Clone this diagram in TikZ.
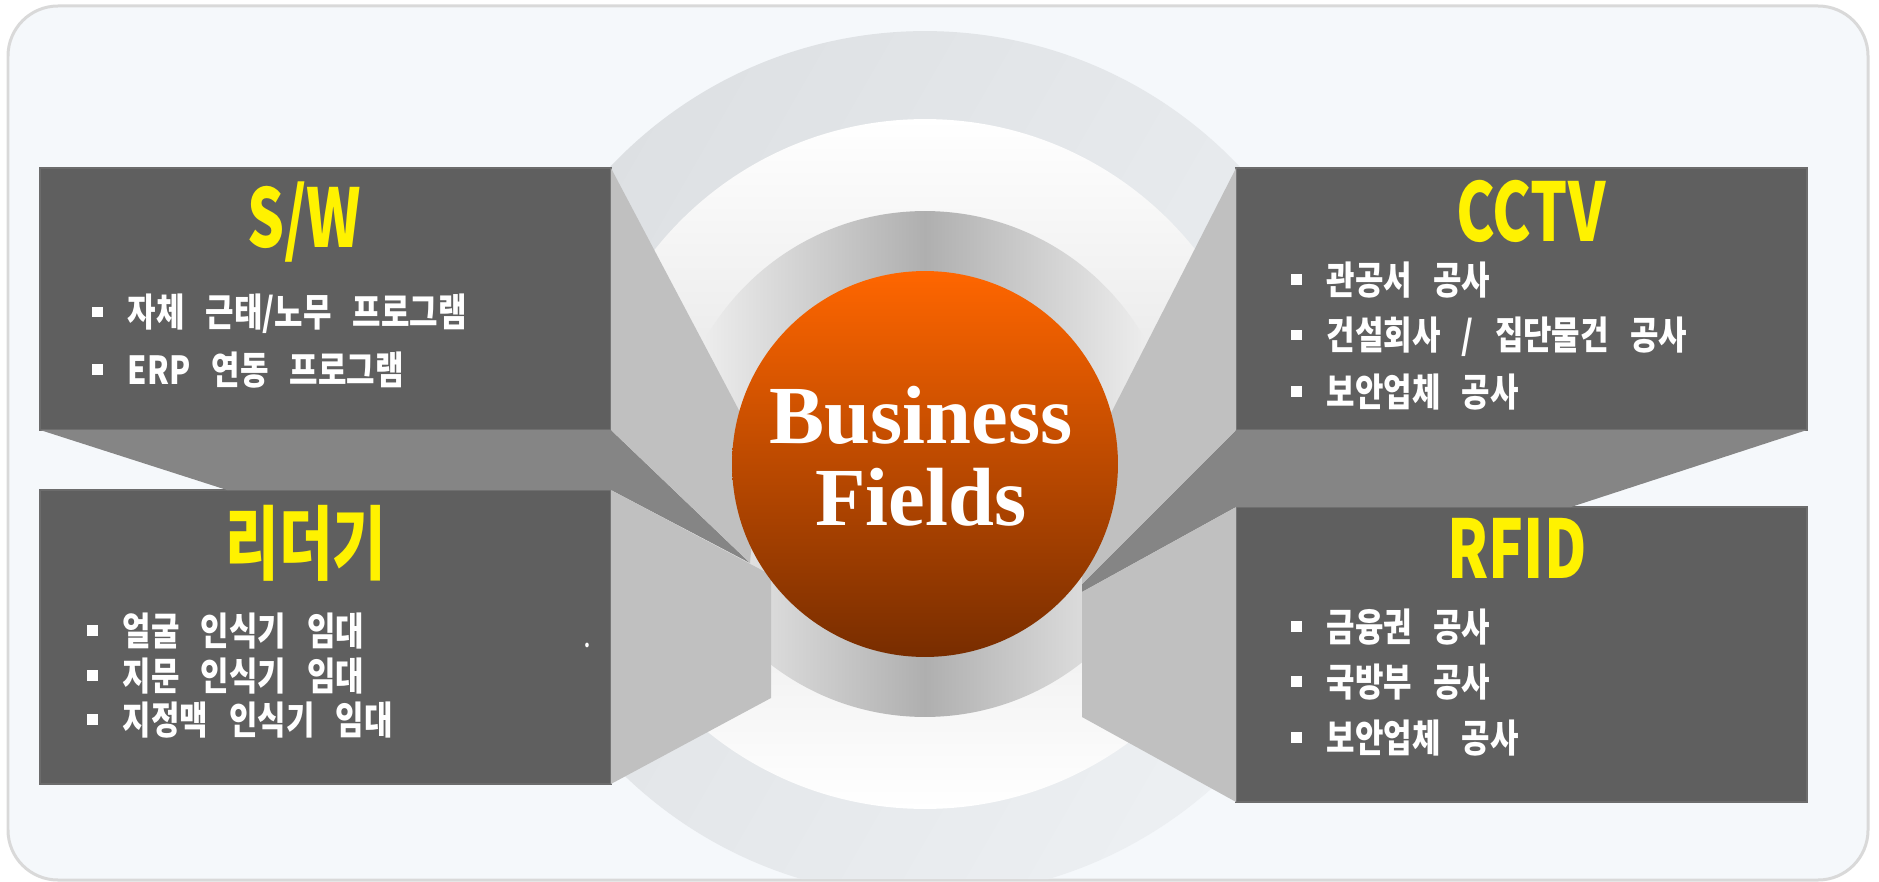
\documentclass[tikz,border=0pt]{standalone}
\usepackage{fontspec}
\setmainfont{Liberation Serif}
\newfontfamily\kofont[FakeStretch=0.8,WordSpace=3]{Noto Sans CJK KR Black}
\newfontfamily\kohead[FakeStretch=0.72]{Noto Sans CJK KR Black}
\definecolor{bgfill}{HTML}{F5F8FB}
\definecolor{bgline}{HTML}{D9D9D9}
\definecolor{ringout}{HTML}{DDE0E3}
\definecolor{ringpale}{HTML}{EDF0F3}
\definecolor{ringmid}{HTML}{E2E2E2}
\definecolor{ringgray}{HTML}{AFAFAF}
\definecolor{ringedge}{HTML}{F6F6F6}
\definecolor{boxgray}{HTML}{5F5F5F}
\definecolor{boxedge}{HTML}{6C6C6C}
\definecolor{facelight}{HTML}{C0C0C0}
\definecolor{facedark}{HTML}{858585}
\definecolor{coretop}{HTML}{FF6600}
\definecolor{corebottom}{HTML}{782D00}
\newcommand{\sqbul}{\rule[0.19cm]{0.21cm}{0.21cm}\hspace{0.5cm}}

\begin{document}
\begin{tikzpicture}[x=0.02cm, y=-0.02cm,
	panel/.style={rectangle, fill=boxgray, draw=boxedge, line width=0.8pt, inner sep=0pt, outer sep=0pt, minimum width=11.42cm},
	head/.style={text=yellow, font=\kohead\fontsize{46}{46}\selectfont, anchor=base, inner sep=0pt},
	item/.style={text=white, font=\kofont\fontsize{22}{22}\selectfont, anchor=west, inner sep=0pt},
	lightface/.style={fill=facelight},
	darkface/.style={fill=facedark}]
	\useasboundingbox (0,0) rectangle (1879,882);
	\draw [draw=bgline, fill=bgfill, line width=0.06cm, rounded corners=1cm] (8,6) rectangle (1868,880);
	
	% rings behind the panels
	\begin{scope}
		\clip [rounded corners=1cm] (9,7) rectangle (1867,879);
		\shade [left color=ringout, right color=ringpale, shading angle=60] (925,464) circle [radius=8.66cm];
		\shade [top color=white, bottom color=white, middle color=ringmid] (925,464) circle [radius=6.9cm];
		\shade [left color=ringedge, right color=ringedge, middle color=ringgray] (925,464) circle [radius=5.06cm];
	\end{scope}
	
	\node [panel, minimum height=5.24cm] (sw) at (325.5,299) {};
	\node [panel, minimum height=5.88cm] (reader) at (325.5,637) {};
	\node [panel, minimum height=5.24cm] (cctv) at (1521.5,299) {};
	\node [panel, minimum height=5.9cm] (rfid) at (1521.5,654.5) {};
	
	% side faces
	\fill [darkface] (sw.south west) -- (sw.south east) -- (750,563) -- (reader.north east) -- (227,490) -- cycle;
	\fill [lightface] (sw.north east) -- (sw.south east) -- (750,563) -- (760,450) -- cycle;
	\fill [lightface] (reader.north east) -- (771,575) -- (771,698) -- (reader.south east) -- cycle;
	\fill [darkface] (cctv.south west) -- (cctv.south east) -- (1571,507) -- (rfid.north west) -- (1082,592) -- (1082,584) -- cycle;
	\fill [lightface] (cctv.north west) -- (cctv.south west) -- (1082,584) -- (1082,470) -- cycle;
	\fill [lightface] (rfid.north west) -- (1082,592) -- (1082,717) -- (rfid.south west) -- cycle;
	
	\node [circle, minimum size=7.72cm, inner sep=0pt, top color=coretop, bottom color=corebottom] (core) at (925,464) {};
	\node [text=white, align=center, font=\bfseries\fontsize{47}{46.7}\selectfont] (core-text) at (921,456) {Business\\Fields};
	
	\node [head] (sw-head) at (304,247) {S/W};
	\node [item] (sw-1) at (92,314) {\sqbul 자체 근태/노무 프로그램};
	\node [item] (sw-2) at (92,370) {\sqbul ERP 연동 프로그램};
	
	\node [head] (reader-head) at (306,573) {리더기};
	\node [item] (reader-1) at (87,631) {\sqbul 얼굴 인식기 임대};
	\node [item] (reader-2) at (87,676) {\sqbul 지문 인식기 임대};
	\node [item] (reader-3) at (87,720) {\sqbul 지정맥 인식기 임대};
	\node [text=white, font=\kofont\fontsize{12}{12}\selectfont, inner sep=0pt] (reader-dot) at (587,645) {.};
	
	\node [head] (cctv-head) at (1531,241) {CCTV};
	\node [item] (cctv-1) at (1291,280) {\sqbul 관공서 공사};
	\node [item] (cctv-2) at (1291,337) {\sqbul 건설회사 / 집단물건 공사};
	\node [item] (cctv-3) at (1291,392) {\sqbul 보안업체 공사};
	
	\node [head] (rfid-head) at (1517,578) {RFID};
	\node [item] (rfid-1) at (1291,627) {\sqbul 금융권 공사};
	\node [item] (rfid-2) at (1291,682) {\sqbul 국방부 공사};
	\node [item] (rfid-3) at (1291,738) {\sqbul 보안업체 공사};
\end{tikzpicture}
\end{document}
